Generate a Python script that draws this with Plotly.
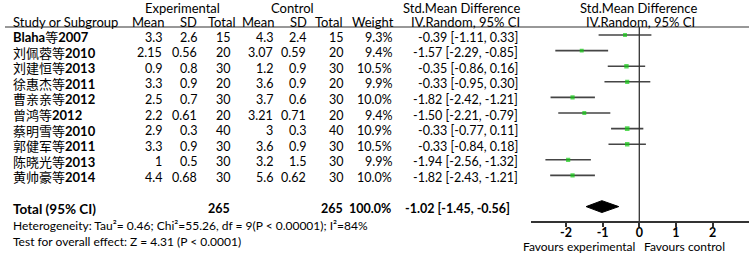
import re
import plotly.graph_objects as go

# ---------------- data ----------------
studies = ["Blaha等2007", "刘佩蓉等2010", "刘建恒等2013", "徐惠杰等2011", "曹亲亲等2012",
           "曾鸿等2012", "蔡明雪等2010", "郭健军等2011", "陈晓光等2013", "黄帅豪等2014"]
exp_mean = [3.3, 2.15, 0.9, 3.3, 2.5, 2.2, 2.9, 3.3, 1, 4.4]
exp_sd = [2.6, 0.56, 0.8, 0.9, 0.7, 0.61, 0.3, 0.9, 0.5, 0.68]
exp_n = [15, 20, 30, 20, 30, 20, 40, 30, 30, 30]
ctl_mean = [4.3, 3.07, 1.2, 3.6, 3.7, 3.21, 3, 3.6, 3.2, 5.6]
ctl_sd = [2.4, 0.59, 0.9, 0.9, 0.6, 0.71, 0.3, 0.9, 1.5, 0.62]
ctl_n = [15, 20, 30, 20, 30, 20, 40, 30, 30, 30]
weight = [9.3, 9.4, 10.5, 9.9, 10.0, 9.4, 10.9, 10.5, 9.9, 10.0]
smd = [-0.39, -1.57, -0.35, -0.33, -1.82, -1.50, -0.33, -0.33, -1.94, -1.82]
ci_lo = [-1.11, -2.29, -0.86, -0.95, -2.42, -2.21, -0.77, -0.84, -2.56, -2.43]
ci_hi = [0.33, -0.85, 0.16, 0.30, -1.21, -0.79, 0.11, 0.18, -1.32, -1.21]
total_exp = 265
total_ctl = 265
total_weight = 100.0
pooled = -1.02
pooled_lo = -1.45
pooled_hi = -0.56
heterogeneity = "Heterogeneity: Tau²= 0.46; Chi²=55.26, df = 9(P < 0.00001); I²=84%"
overall_test = "Test for overall effect: Z = 4.31 (P < 0.0001)"
tick_vals = [-2, -1, 0, 1, 2]
tick_text = ["-2", "-1", "0", "1", "2"]

# ---------------- layout helpers ----------------
W, H = 749, 254
ROW0, DY = 35.0, 15.6          # pixel y of first row and row pitch
X0PX, XUNIT = 639.3, 36.675    # pixel of zero and px per unit on forest axis
FONT = "Lato, 'Noto Sans CJK SC', sans-serif"
FS_HEAD = 13
FS_NUM = 12.5
FS_NAME = 13
FS_SMALL = 12


def px(x):
    return x / W


def row_of(ypx):
    return (ypx - ROW0) / DY


rows = list(range(len(studies)))
total_row = len(studies) + 1

fig = go.Figure()

# CI lines
cx, cy = [], []
for r, l, h in zip(rows, ci_lo, ci_hi):
    cx += [l, h, None]
    cy += [r, r, None]
fig.add_trace(go.Scatter(x=cx, y=cy, mode="lines",
                         line=dict(color="#454545", width=1.6),
                         hoverinfo="skip", showlegend=False))
# squares
fig.add_trace(go.Scatter(x=smd, y=rows, mode="markers",
                         marker=dict(symbol="square", color="#14cc14",
                                     size=[w * 0.42 for w in weight], line=dict(width=0)),
                         showlegend=False))
# pooled diamond
hh = 0.38
fig.add_trace(go.Scatter(x=[pooled_lo, pooled, pooled_hi, pooled, pooled_lo],
                         y=[total_row, total_row - hh, total_row, total_row + hh, total_row],
                         mode="lines", fill="toself", fillcolor="black",
                         line=dict(color="black", width=1), showlegend=False))

ann = []


def add(text, xpx, row, anchor="right", bold=False, size=FS_NUM, yshift=-2):
    ann.append(dict(text=f"<b>{text}</b>" if bold else text, x=px(xpx), xref="paper",
                    y=row, yref="y", xanchor=anchor, yanchor="middle", showarrow=False,
                    yshift=yshift, font=dict(family=FONT, size=size, color="black")))


def bold_latin(s):
    return re.sub(r"([A-Za-z0-9]+)", r"<b>\1</b>", s)


# headers
hr1, hr2 = row_of(7.5), row_of(22)
add("Experimental", 182, hr1, "center", size=FS_HEAD, yshift=0)
add("Control", 292, hr1, "center", size=FS_HEAD, yshift=0)
add("Std.Mean Difference", 462, hr1, "center", size=FS_HEAD, yshift=0)
add("Std.Mean Difference", 638, hr1, "center", size=FS_HEAD, yshift=0)
add("Study or Subgroup", 11, hr2, "left", size=FS_HEAD, yshift=0)
add("Mean", 166, hr2, size=FS_HEAD, yshift=0)
add("SD", 199, hr2, size=FS_HEAD, yshift=0)
add("Total", 238, hr2, size=FS_HEAD, yshift=0)
add("Mean", 276, hr2, size=FS_HEAD, yshift=0)
add("SD", 309, hr2, size=FS_HEAD, yshift=0)
add("Total", 345, hr2, size=FS_HEAD, yshift=0)
add("Weight", 396, hr2, size=FS_HEAD, yshift=0)
add("IV.Random, 95% CI", 465, hr2, "center", size=FS_HEAD, yshift=0)
add("IV.Random, 95% CI", 640, hr2, "center", size=FS_HEAD, yshift=0)

for r in rows:
    add(bold_latin(studies[r]), 11, r, "left", size=FS_NAME)
    add(f"{exp_mean[r]:g}", 164, r)
    add(f"{exp_sd[r]:g}", 199, r)
    add(f"{exp_n[r]}", 223.5, r, "center")
    add(f"{ctl_mean[r]:g}", 275, r)
    add(f"{ctl_sd[r]:g}", 308, r)
    add(f"{ctl_n[r]}", 346, r)
    add(f"{weight[r]:.1f}%", 394, r)
    add(f"{smd[r]:.2f} [{ci_lo[r]:.2f}, {ci_hi[r]:.2f}]", 520, r)

add("Total (95% CI)", 11, total_row, "left", bold=True, size=13.5)
add(f"{total_exp}", 232, total_row, bold=True)
add(f"{total_ctl}", 345, total_row, bold=True)
add(f"{total_weight:.1f}%", 393, total_row, bold=True)
add(f"{pooled:.2f} [{pooled_lo:.2f}, {pooled_hi:.2f}]", 512, total_row, bold=True)
add(heterogeneity, 11, row_of(225), "left", size=FS_SMALL, yshift=0)
add(overall_test, 11, row_of(241), "left", size=FS_SMALL, yshift=0)

# favours labels
for txt, anchor, shift in [("Favours experimental", "right", -2), ("Favours control", "left", 3)]:
    ann.append(dict(text=txt, x=0, xref="x", y=row_of(246.5), yref="y", xanchor=anchor,
                    yanchor="middle", xshift=shift, showarrow=False,
                    font=dict(family=FONT, size=FS_SMALL, color="black")))

axis_y = 1 - 222 / H
header_y = 1 - 27 / H
shapes = [
    dict(type="line", xref="paper", yref="paper", x0=px(5), x1=1, y0=header_y, y1=header_y,
         line=dict(color="#333333", width=1.2)),
    dict(type="line", xref="x", yref="paper", x0=0, x1=0, y0=axis_y, y1=header_y,
         line=dict(color="#333333", width=1.3)),
]

left_unit = (530.7 - X0PX) / XUNIT
right_unit = (W - X0PX) / XUNIT

fig.update_layout(
    width=W, height=H, margin=dict(l=0, r=0, t=0, b=0),
    paper_bgcolor="white", plot_bgcolor="white",
    annotations=ann, shapes=shapes,
    xaxis=dict(domain=[px(530.7), 1], range=[left_unit, right_unit], anchor="free",
               position=axis_y, showline=True, linecolor="#333333", linewidth=1.5,
               ticks="outside", ticklen=4, tickcolor="#333333", tickwidth=1.5,
               tickvals=tick_vals, ticktext=tick_text, showgrid=False, zeroline=False,
               ticklabelstandoff=-5,
               tickfont=dict(family=FONT, size=12.5, color="black", weight="bold")),
    yaxis=dict(domain=[0, 1], range=[row_of(H), row_of(0)], visible=False,
               showgrid=False, zeroline=False),
)

fig.write_html("out.html", config={"displayModeBar": False},
               post_script="document.body.style.margin='0';document.body.style.overflow='hidden';")
